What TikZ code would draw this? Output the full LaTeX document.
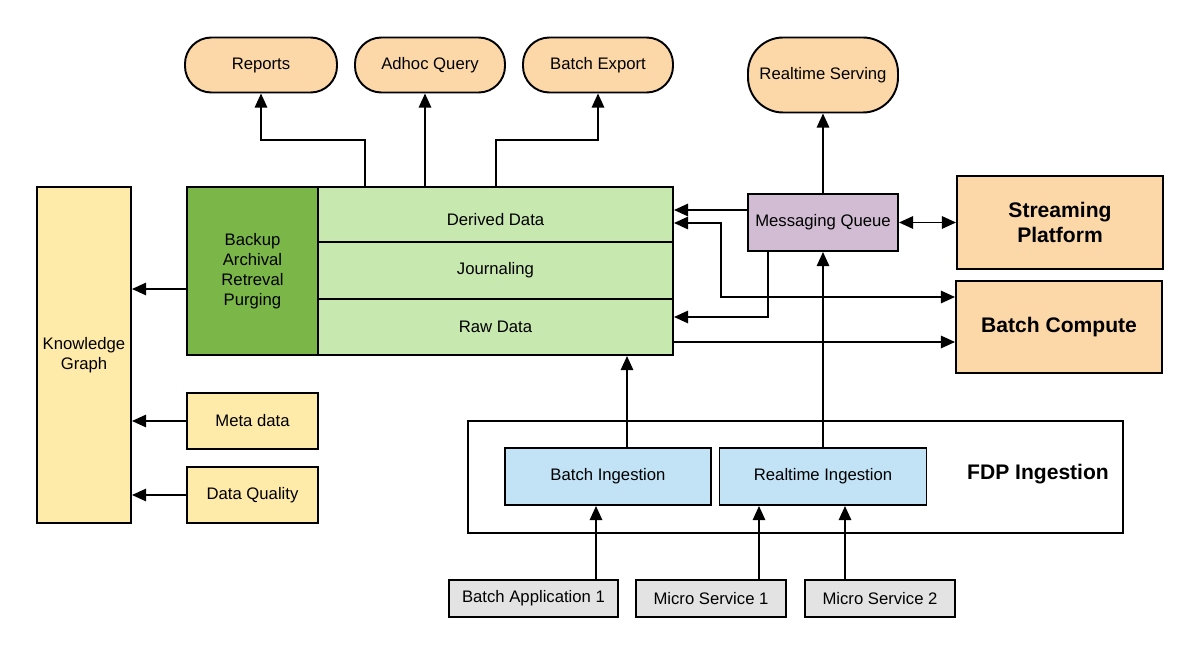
\documentclass[tikz,border=0pt]{standalone}
\usepackage{fontspec}
\setmainfont{Liberation Sans}
\usetikzlibrary{arrows.meta}

\definecolor{peach}{HTML}{FCD8A8}
\definecolor{lgreen}{HTML}{C7E8AE}
\definecolor{dgreen}{HTML}{7AB648}
\definecolor{lyellow}{HTML}{FFEBA9}
\definecolor{lpurple}{HTML}{D1BCD3}
\definecolor{lblue}{HTML}{C2E3F6}
\definecolor{lgray}{HTML}{E3E3E3}

\tikzset{
  box/.style={draw, line width=1.1pt, inner sep=0pt, align=center},
  term/.style={box, fill=peach, rounded corners=15pt},
  sz/.style 2 args={minimum width=#1*0.02cm, minimum height=#2*0.02cm},
  big/.style={font=\fontsize{12}{14.5}\selectfont\bfseries},
  arr/.style={->, line width=1.1pt},
  arr2/.style={<->, line width=1.1pt}
}

\begin{document}
\begin{tikzpicture}[x=0.02cm, y=-0.02cm, font=\fontsize{9.5}{11.3}\selectfont, >={Triangle[length=8pt,width=7pt]}]
\useasboundingbox (0,0) rectangle (1200,655);
% consumers
\node[term, sz={152}{55}] (reports) at (261,65) {Reports};
\node[term, sz={150}{55}] (adhoc) at (430,65) {Adhoc Query};
\node[term, sz={150}{55}] (bexport) at (598,65) {Batch Export};
\node[term, sz={150}{75}, rounded corners=20pt] (rtserve) at (823,75) {Realtime Serving};
% storage
\node[box, fill=dgreen, sz={131}{168}] (bkp) at (252.5,271) {Backup\\Archival\\Retreval\\Purging};
\node[box, fill=lgreen, sz={355}{55}, text height=14pt, text depth=2pt] (derived) at (495.5,214.5) {Derived Data};
\node[box, fill=lgreen, sz={355}{57}] (journal) at (495.5,270.5) {Journaling};
\node[box, fill=lgreen, sz={355}{56}] (raw) at (495.5,327) {Raw Data};
% metadata side
\node[box, fill=lyellow, sz={94}{336}] (kg) at (84,355) {Knowledge\\Graph};
\node[box, fill=lyellow, sz={131}{56}] (meta) at (252.5,421) {Meta data};
\node[box, fill=lyellow, sz={131}{56}] (dq) at (252.5,495) {Data Quality};
% compute
\node[box, fill=lpurple, sz={150}{57}] (mq) at (823,222.5) {Messaging Queue};
\node[box, fill=peach, sz={206}{93}, big] (stream) at (1060,222.5) {Streaming\\Platform};
\node[box, fill=peach, sz={206}{92}, big] (bcomp) at (1059,327) {Batch Compute};
% ingestion
\node[box, sz={655}{112}] (fdp) at (795.5,477) {};
\node[big] (fdplbl) at (1038,474) {FDP Ingestion};
\node[box, fill=lblue, sz={206}{57}] (bing) at (608,476.5) {Batch Ingestion};
\node[box, fill=lblue, sz={207}{57}] (ring) at (823,476.5) {Realtime Ingestion};
% sources
\node[box, fill=lgray, sz={169}{37}] (bapp) at (533.5,598.5) {Batch Application 1};
\node[box, fill=lgray, sz={150}{37}] (ms1) at (711,598.5) {Micro Service 1};
\node[box, fill=lgray, sz={150}{37}] (ms2) at (880,598.5) {Micro Service 2};

% outputs
\draw[arr] (derived.north -| 365,0) -- (365,140) -| (reports.south);
\draw[arr] (derived.north -| 425,0) -- (adhoc.south -| 425,0);
\draw[arr] (derived.north -| 496,0) -- (496,140) -| (bexport.south);
\draw[arr] (mq.north) -- (rtserve.south);
% queue and compute
\draw[arr] (mq.west |- 0,210) -- (derived.east |- 0,210);
\draw[arr2] (derived.east |- 0,223) -| (721,297) -- (bcomp.west |- 0,297);
\draw[arr] (mq.south -| 768,0) |- (raw.east |- 0,317);
\draw[arr] (raw.east |- 0,342) -- (bcomp.west |- 0,342);
\draw[arr2] (mq.east) -- (stream.west);
% ingestion
\draw[arr] (ring.north) -- (mq.south);
\draw[arr] (bing.north -| 627,0) -- (raw.south -| 627,0);
\draw[arr] (bapp.north -| 596,0) -- (bing.south -| 596,0);
\draw[arr] (ms1.north -| 759,0) -- (ring.south -| 759,0);
\draw[arr] (ms2.north -| 845,0) -- (ring.south -| 845,0);
% knowledge graph
\draw[arr] (bkp.west |- 0,289) -- (kg.east |- 0,289);
\draw[arr] (meta.west) -- (kg.east |- meta.west);
\draw[arr] (dq.west) -- (kg.east |- dq.west);
\end{tikzpicture}
\end{document}
